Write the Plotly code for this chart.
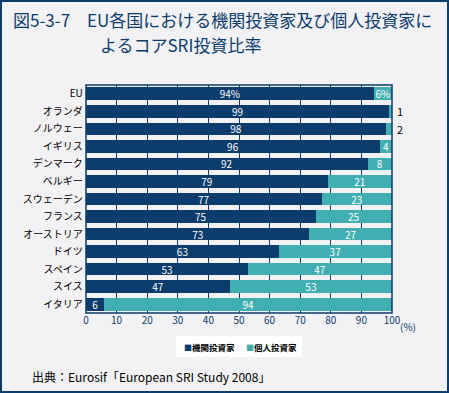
import plotly.graph_objects as go

countries = ["EU", "オランダ", "ノルウェー", "イギリス", "デンマーク", "ベルギー", "スウェーデン",
             "フランス", "オーストリア", "ドイツ", "スペイン", "スイス", "イタリア"]
institutional = [94, 99, 98, 96, 92, 79, 77, 75, 73, 63, 53, 47, 6]
individual = [6, 1, 2, 4, 8, 21, 23, 25, 27, 37, 47, 53, 94]
inst_labels = ["94%", "99", "98", "96", "92", "79", "77", "75", "73", "63", "53", "47", "6"]
indiv_labels = ["6%", "1", "2", "4", "8", "21", "23", "25", "27", "37", "47", "53", "94"]
series_names = ["機関投資家", "個人投資家"]
x_ticks = [0, 10, 20, 30, 40, 50, 60, 70, 80, 90, 100]

W, H = 449, 393
ml, mr, mt, mb = 86, 57, 85, 80
pw, ph = W - ml - mr, H - mt - mb

DARK = "#0b3c6b"
TEAL = "#41aeb1"
FONT = "Noto Sans CJK JP"


def px(x):
    return (x - ml) / pw


def py(y):
    return (H - mb - y) / ph


fig = go.Figure()
fig.add_trace(go.Bar(
    y=countries, x=institutional, orientation="h", name=series_names[0],
    marker=dict(color=DARK, line=dict(width=0)),
    text=inst_labels, textposition="inside", insidetextanchor="middle", textangle=0,
    textfont=dict(color="white", size=10, family=FONT),
))
indiv_text = [t if v >= 4 else "" for t, v in zip(indiv_labels, individual)]
fig.add_trace(go.Bar(
    y=countries, x=individual, orientation="h", name=series_names[1],
    marker=dict(color=TEAL, line=dict(width=0)),
    text=indiv_text, textposition="inside", insidetextanchor="middle", textangle=0,
    textfont=dict(color="white", size=10, family=FONT),
))

annotations = []
for c, v, t in zip(countries, individual, indiv_labels):
    if v < 4:
        annotations.append(dict(x=100, y=c, xref="x", yref="y", text=t, showarrow=False,
                                xanchor="left", xshift=3, font=dict(size=11, color="black", family=FONT)))

# title
annotations.append(dict(x=px(11), y=py(5), xref="paper", yref="paper",
                        xanchor="left", yanchor="top", showarrow=False,
                        text="図5-3-7　EU各国における機関投資家及び個人投資家に",
                        font=dict(size=17, color=DARK, family=FONT)))
annotations.append(dict(x=px(98), y=py(30), xref="paper", yref="paper",
                        xanchor="left", yanchor="top", showarrow=False,
                        text="よるコアSRI投資比率",
                        font=dict(size=17, color=DARK, family=FONT)))
# unit
annotations.append(dict(x=1, y=0, xref="paper", yref="paper", xanchor="left", yanchor="top",
                        xshift=6, yshift=-4, showarrow=False, text="(%)",
                        font=dict(size=10, color=DARK, family=FONT)))
# source
annotations.append(dict(x=px(30), y=py(376), xref="paper", yref="paper",
                        xanchor="left", yanchor="middle",
                        showarrow=False, text="出典：Eurosif「European SRI Study 2008」",
                        font=dict(size=12, color="black", family=FONT)))

# custom legend
for xpos, name, col in [(182, series_names[0], DARK), (244, series_names[1], TEAL)]:
    annotations.append(dict(x=px(xpos), y=py(346.5), xref="paper", yref="paper",
                            xanchor="left", yanchor="middle", showarrow=False,
                            text=f"<span style='color:{col};font-size:8px'>■</span><b>{name}</b>",
                            font=dict(size=8.5, color="black", family=FONT)))

shapes = [dict(type="rect", xref="paper", yref="paper",
               x0=px(1), x1=px(W - 1), y0=py(H - 1), y1=py(1),
               line=dict(color=DARK, width=2), fillcolor="rgba(0,0,0,0)", layer="above"),
          dict(type="rect", xref="paper", yref="paper", x0=0, x1=1, y0=0, y1=1,
               line=dict(color=DARK, width=1.5), fillcolor="rgba(0,0,0,0)", layer="above"),
          dict(type="rect", xref="paper", yref="paper", x0=px(176), x1=px(302),
               y0=py(357), y1=py(336), line=dict(width=0), fillcolor="white", layer="below")]

fig.update_layout(
    width=W, height=H, barmode="stack", bargap=0.28,
    margin=dict(l=ml, r=mr, t=mt, b=mb),
    paper_bgcolor="#f2f2f4", plot_bgcolor="#f2f2f4",
    font=dict(family=FONT),
    showlegend=False,
    annotations=annotations, shapes=shapes,
    xaxis=dict(range=[0, 100], tickvals=x_ticks, showgrid=True, gridcolor=DARK, gridwidth=1,
               zeroline=False, tickfont=dict(size=10, color=DARK, family=FONT),
               showline=False, fixedrange=True),
    yaxis=dict(categoryorder="array", categoryarray=countries[::-1], showgrid=False,
               tickfont=dict(size=10, color="black", family=FONT), ticksuffix=" ",
               showline=False, fixedrange=True),
    uniformtext=dict(minsize=8, mode="show"),
)

fig.write_html("out.html", config={"displayModeBar": False},
               post_script="document.body.style.margin='0';")
